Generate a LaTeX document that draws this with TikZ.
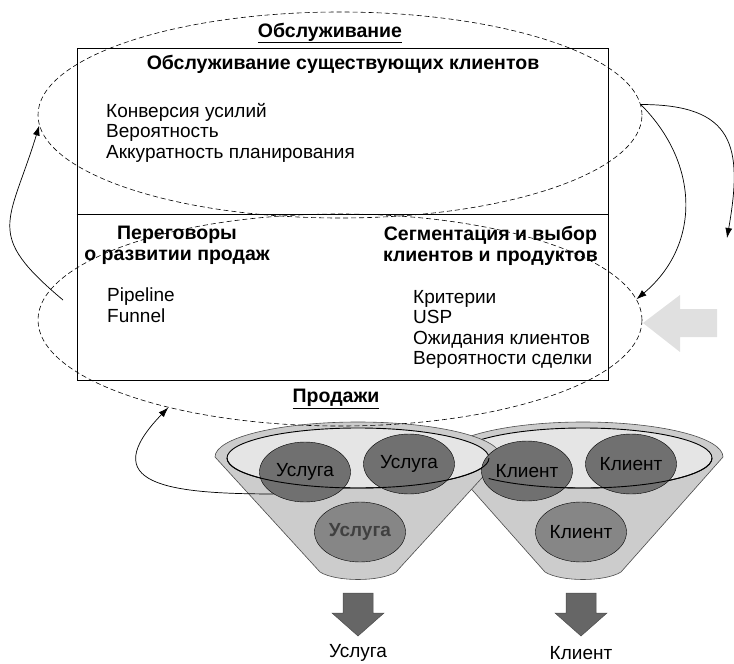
\documentclass[tikz,border=0pt]{standalone}
\usepackage{fontspec}
\setmainfont{Liberation Sans}
\usetikzlibrary{positioning}
\usetikzlibrary{shapes.geometric}
\usetikzlibrary{arrows.meta}

\definecolor{kreisgrau}{gray}{0.44}
\definecolor{trichtergrau}{gray}{0.80}
\definecolor{innengrau}{gray}{0.90}
\definecolor{pfeilgrau}{gray}{0.40}
\definecolor{hellgrau}{gray}{0.88}

\begin{document}
\begin{tikzpicture}[x=1pt, y=1pt,
    schrift/.style={font=\fontsize{19}{20.5}\selectfont, inner sep=0pt},
    fett/.style={font=\fontsize{19.5}{20.5}\selectfont\bfseries, inner sep=0pt},
    oval/.style={draw, dashed, dash pattern=on 5pt off 3pt, ellipse, line width=0.6pt, inner sep=0pt},
    kreis/.style={ellipse, draw, fill=kreisgrau, minimum width=91pt, minimum height=60pt, inner sep=0pt, font=\fontsize{19}{20.5}\selectfont},
    trichter/.style={fill=trichtergrau, draw=black!70, line width=0.6pt},
    rand/.style={fill=innengrau, draw, line width=0.9pt},
    bogen/.style={-{Latex[length=10pt,width=7pt]}, line width=0.7pt},
    blockpfeil/.style={fill=pfeilgrau, draw=black!70, line width=0.5pt}]
    \useasboundingbox (0,0) rectangle (734,-664);

    %Kasten
    \node[draw, line width=0.9pt, minimum width=531pt, minimum height=332pt, inner sep=0pt] at (342.5,-214) (kasten) {};
    \draw[line width=0.9pt] (kasten.west) -- (kasten.east);

    %Obsluzhivanie
    \node[fett] at (330,-33) (titel) {\underline{Обслуживание}};
    \node[fett] at (343,-64) (kunden) {Обслуживание существующих клиентов};
    \node[schrift, anchor=north west, align=left] at (106,-103) (kennzahlen) {Конверсия усилий\\Вероятность\\Аккуратность планирования};
    %Verhandlungen
    \node[fett, anchor=north, align=center] at (177,-226) (verhandlung) {Переговоры\\о развитии продаж};
    \node[schrift, anchor=north west, align=left] at (107,-288) (pipeline) {Pipeline\\Funnel};
    %Segmentierung
    \node[fett, anchor=north east, align=center] at (598,-226) (segment) {Сегментация и выбор\\клиентов и продуктов};
    \node[schrift, anchor=north west, align=left] at (413,-290) (kriterien) {Критерии\\USP\\Ожидания клиентов\\Вероятности сделки};
    %Prodazhi
    \node[fett] at (336,-399) (verkauf) {\underline{Продажи}};

    %Trichter rechts
    \filldraw[trichter] (443,-457) arc[start angle=180, end angle=0, x radius=140, y radius=35] -- (621,-572) .. controls (605,-582) and (561,-582) .. (545,-572) -- cycle;
    \filldraw[rand] (583,-458) ellipse[x radius=129, y radius=30];
    %Trichter links
    \filldraw[trichter] (215,-457) arc[start angle=180, end angle=0, x radius=143, y radius=35] -- (396,-572) .. controls (380,-582) and (336,-582) .. (320,-572) -- cycle;
    \filldraw[rand] (358,-458) ellipse[x radius=131, y radius=30];

    %Kreise
    \node[kreis] at (305,-472) (u1) {Услуга};
    \node[kreis] at (409,-464) (u2) {Услуга};
    \node[kreis, fill=kreisgrau!85!white] at (360,-532) (u3) {\textbf{\color{black!75}Услуга}};
    \node[kreis] at (527,-471) (k1) {Клиент};
    \node[kreis] at (631,-464) (k2) {Клиент};
    \node[kreis, fill=kreisgrau!85!white] at (581,-532) (k3) {Клиент};

    %Vorderkante
    \draw[line width=0.9pt] (227,-458) arc[start angle=180, end angle=360, x radius=131, y radius=30];
    \draw[line width=0.9pt] (488.7,-478.5) arc[start angle=223, end angle=360, x radius=129, y radius=30];

    %Ergebnis
    \filldraw[blockpfeil] (343,-593) -- (373,-593) -- (373,-613) -- (384,-613) -- (358,-636) -- (332,-613) -- (343,-613) -- cycle;
    \filldraw[blockpfeil] (566,-593) -- (596,-593) -- (596,-613) -- (607,-613) -- (581,-636) -- (555,-613) -- (566,-613) -- cycle;
    \node[schrift, anchor=base] at (358,-657) (ergebnis1) {Услуга};
    \node[schrift, anchor=base] at (581,-659) (ergebnis2) {Клиент};

    %grauer Pfeil
    \fill[hellgrau] (643,-323) -- (680,-295) -- (680,-309) -- (717,-309) -- (717,-337) -- (680,-337) -- (680,-352) -- cycle;

    %Ovale
    \node[oval, minimum width=604pt, minimum height=206pt] at (340,-115) (obsl) {};
    \node[oval, minimum width=604pt, minimum height=212pt] at (340,-320) (prod) {};

    %Pfeile
    \coordinate (rueck) at (63,-300);
    \coordinate (ende) at (727,-238);
    \draw[bogen] (rueck) to[out=140, in=253, looseness=1.5] (obsl.182);
    \draw[bogen] (obsl.2) to[out=0, in=80, looseness=1.5] (ende);
    \draw[bogen] (obsl.2) to[out=-45, in=40, looseness=1.1] (prod.4);
    \draw[bogen] (u1.215) to[out=180, in=226, looseness=2] (prod.207);

\end{tikzpicture}
\end{document}
